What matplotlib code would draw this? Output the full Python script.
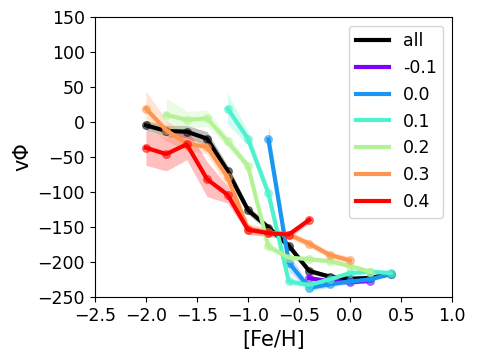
import numpy as np
import matplotlib
matplotlib.use("Agg")
import matplotlib.pyplot as plt

labels = ["all", "-0.1", "0.0", "0.1", "0.2", "0.3", "0.4"]

x_all = [-2.0, -1.8, -1.6, -1.4, -1.2, -1.0, -0.8, -0.6, -0.4, -0.2, 0.0, 0.2, 0.4]
y_all = [-5, -13, -14, -24, -70, -126, -151, -177, -213, -221, -224, -223, -217]
e_all = [7, 8, 9, 10, 8, 6, 5, 5, 4, 3, 3, 3, 3]

x_m01 = [-0.4, -0.2, 0.0, 0.2]
y_m01 = [-223, -228, -229, -227]
e_m01 = [3, 3, 3, 3]

x_00 = [-0.8, -0.6, -0.4, -0.2, 0.0, 0.2, 0.4]
y_00 = [-25, -201, -237, -232, -228, -225, -217]
e_00 = [20, 12, 5, 4, 3, 3, 3]

x_01 = [-1.2, -1.0, -0.8, -0.6, -0.4, -0.2, 0.0, 0.2, 0.4]
y_01 = [19, -24, -102, -228, -233, -225, -216, -214, -216]
e_01 = [22, 10, 8, 5, 4, 3, 3, 3, 3]

x_02 = [-1.8, -1.6, -1.4, -1.2, -1.0, -0.8, -0.6, -0.4, -0.2, 0.0, 0.2]
y_02 = [10, 3, 5, -28, -63, -178, -194, -196, -199, -206, -214]
e_02 = [24, 12, 12, 8, 6, 5, 4, 3, 3, 3, 3]

x_03 = [-2.0, -1.8, -1.6, -1.4, -1.2, -1.0, -0.8, -0.6, -0.4, -0.2, 0.0]
y_03 = [19, -12, -31, -36, -79, -153, -158, -161, -174, -190, -198]
e_03 = [25, 15, 10, 10, 15, 8, 6, 5, 5, 5, 5]

x_04 = [-2.0, -1.8, -1.6, -1.4, -1.2, -1.0, -0.8, -0.6, -0.4]
y_04 = [-37, -46, -32, -82, -104, -154, -159, -161, -140]
e_04 = [25, 24, 22, 25, 12, 6, 5, 5, 5]

series = [(x_all, y_all, e_all), (x_m01, y_m01, e_m01), (x_00, y_00, e_00),
          (x_01, y_01, e_01), (x_02, y_02, e_02), (x_03, y_03, e_03),
          (x_04, y_04, e_04)]

colors = ["black"] + [plt.cm.rainbow(v) for v in np.linspace(0, 1, 6)]

fig = plt.figure(figsize=(4.79, 3.59), dpi=100)
ax = fig.add_axes([0.198, 0.173, 0.746, 0.780])

for (x, y, e), c, lab in zip(series, colors, labels):
    x = np.array(x); y = np.array(y); e = np.array(e)
    ax.fill_between(x, y - e, y + e, color=c, alpha=0.25, lw=0)
    ax.plot(x, y, color=c, lw=3, label=lab)
    ax.plot(x, y, 'o', color=c, alpha=0.5, ms=5.5)

ax.set_xlim(-2.5, 1.0)
ax.set_ylim(-250, 150)
ax.set_xticks(np.arange(-2.5, 1.01, 0.5))
ax.set_yticks(np.arange(-250, 151, 50))
ax.tick_params(labelsize=12.5)
ax.set_xlabel("[Fe/H]", fontsize=15)
ax.set_ylabel("vΦ", fontsize=15)
ax.legend(loc="upper right", fontsize=12.5, handlelength=1.9)

fig.savefig("out.png", dpi=100)
